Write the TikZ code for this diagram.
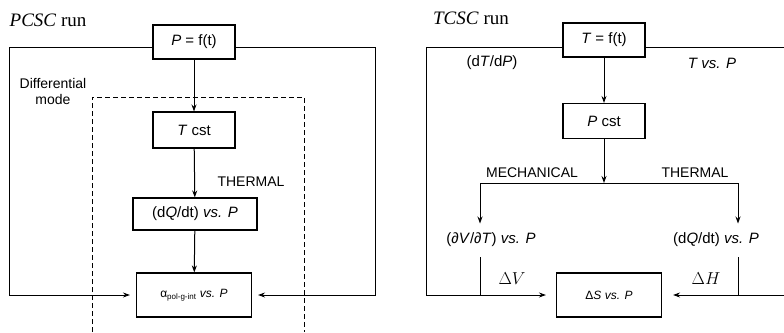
\documentclass[tikz,border=0pt]{standalone}
\usepackage{fontspec}
\setmainfont{Liberation Sans}
\newfontfamily\titlefont{Liberation Serif}
\usepackage{tikz}
\usetikzlibrary{arrows.meta,positioning,calc}
\newcommand{\vsP}{\textit{vs. P}}

\begin{document}
\begin{tikzpicture}[x=1pt, y=-1pt, line width=1pt,
  >={Stealth[length=7pt, width=5pt]},
  font=\fontsize{15}{17}\selectfont,
  box/.style={draw, line width=1.1pt, inner sep=2pt, minimum width=82pt, minimum height=34pt},
  lbl/.style={inner sep=1pt, font=\fontsize{14}{16}\selectfont},
  ttl/.style={inner sep=0pt, font=\titlefont\fontsize{19}{21}\selectfont}]
\useasboundingbox (0,0) rectangle (784,332);
% PCSC run
\node[ttl] (t1) at (48,20) {\textit{PCSC} run};
\node[box] (pf) at (194,42) {\textit{P} = f(t)};
\node[lbl, align=center] (dm) at (53,91) {Differential\\mode};
\node[box, minimum height=36pt] (tc) at (194,130) {\textit{T} cst};
\node[box, minimum width=124pt, minimum height=32pt] (dq) at (195,214) {(d\textit{Q}/dt) \vsP};
\node[lbl] (th1) at (251,182) {THERMAL};
\node[box, minimum width=115pt, minimum height=44pt, font=\fontsize{12}{14}\selectfont] (al) at (194,295) {α\textsubscript{pol-g-int} \vsP};
\draw[dashed, dash pattern=on 5pt off 3pt] (92,332) |- (304,97) -- (304,332);
\draw[->] (pf) -- (tc);
\draw[->] (tc) -- (dq);
\draw[->] (dq) -- (al);
\coordinate (lt) at (9,47);
\coordinate (rt) at (375,47);
\draw[->] (pf.west |- lt) -- (lt) |- ([xshift=-6pt]al.west);
\draw[->] (pf.east |- rt) -- (rt) |- ([xshift=6pt]al.east);
% TCSC run
\node[ttl] (t2) at (471,18) {\textit{TCSC} run};
\node[box] (tf) at (604,40) {\textit{T} = f(t)};
\node[lbl, font=\fontsize{15}{17}\selectfont] (dtdp) at (492,63) {(d\textit{T}/d\textit{P})};
\node[lbl, font=\fontsize{15}{17}\selectfont] (tvp) at (712,63) {\textit{T vs. P}};
\node[box, minimum height=35pt] (pc) at (604,121) {\textit{P} cst};
\node[lbl] (mech) at (532,173) {MECHANICAL};
\node[lbl] (th2) at (695,173) {THERMAL};
\node[lbl, font=\fontsize{15}{17}\selectfont] (dv) at (491,240) {(∂\textit{V}/∂\textit{T}) \vsP};
\node[lbl, font=\fontsize{15}{17}\selectfont] (dqr) at (716,240) {(d\textit{Q}/dt) \vsP};
\node[box, minimum width=105pt, minimum height=44pt, font=\fontsize{12}{14}\selectfont] (ds) at (609,295) {Δ\textit{S} \vsP};
\node[lbl, font=\fontsize{18}{20}\selectfont] (dvl) at (512,279) {$\Delta V$};
\node[lbl, font=\fontsize{18}{20}\selectfont] (dhl) at (706,279) {$\Delta H$};
\draw[->] (tf) -- (pc);
\coordinate (mb) at (480,183);
\coordinate (tb) at (738,183);
\draw[->] (pc) -- (pc.south |- mb);
\draw (mb) -- (tb);
\draw[->] (mb) -- ([yshift=8pt]mb |- dv.north);
\draw[->] (tb) -- ([yshift=8pt]tb |- dqr.north);
\coordinate (lt2) at (426,47);
\coordinate (rt2) at (784,47);
\draw[->] (tf.west |- lt2) -- (lt2) |- ([xshift=-10pt]ds.west);
\draw[->] (tf.east |- rt2) -- (rt2) |- ([xshift=11pt]ds.east);
\draw ([yshift=-9pt]mb |- dv.south) -- (mb |- ds.west);
\draw ([yshift=-9pt]tb |- dqr.south) -- (tb |- ds.east);
\end{tikzpicture}
\end{document}
